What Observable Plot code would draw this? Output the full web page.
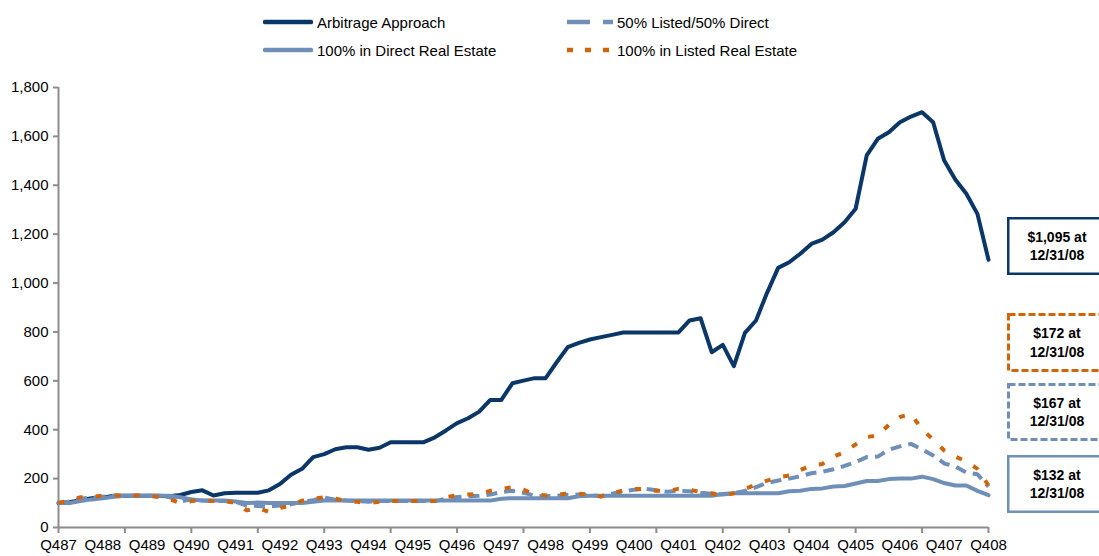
<!DOCTYPE html>
<html>
<head>
<meta charset="utf-8">
<script src="https://cdn.jsdelivr.net/npm/d3@7"></script>
<script src="https://cdn.jsdelivr.net/npm/@observablehq/plot@0.6"></script>
<style>
  body { margin: 0; background: #fff; font-family: "Liberation Sans", Arial, sans-serif; }
  #wrap { position: relative; width: 1099px; height: 556px; overflow: hidden; background: #fff; }
  #legend { position: relative; width: 1099px; height: 70px; }
  .lg { position: absolute; display: flex; align-items: center; font-size: 15px; color: #000; white-space: nowrap; height: 20px; }
  .lg svg { margin-right: 4px; }
  .box { position: absolute; width: 100px; box-sizing: border-box; }
  .box svg { position: absolute; left: 0; top: 0; }
  .box .t { position: absolute; left: 0; width: 100px; text-align: center; font-weight: bold; font-size: 14px; line-height: 18.5px; color: #000; }
  #chart { position: absolute; left: 0; top: 70px; }
</style>
</head>
<body>
<div id="wrap">
  <div id="legend"></div>
  <div id="chart"></div>
</div>
<script>
// ---- Data ----
const quarterLabels = ["Q487","Q488","Q489","Q490","Q491","Q492","Q493","Q494","Q495","Q496","Q497","Q498","Q499","Q400","Q401","Q402","Q403","Q404","Q405","Q406","Q407","Q408"];
const yTicks = [0, 200, 400, 600, 800, 1000, 1200, 1400, 1600, 1800];

// Quarterly values Q4 1987 .. Q4 2008 (85 quarters)
const arbitrage = [100,103,112,120,122,130,130,130,130,130,128,133,145,152,131,140,142,142,142,152,
  178,216,240,288,300,320,328,328,318,326,349,349,349,349,369,397,427,447,474,522,
  522,590,601,611,611,676,738,755,769,779,788,798,798,798,798,798,798,847,856,717,
  747,660,796,847,960,1062,1085,1120,1160,1178,1208,1249,1304,1522,1590,1617,1658,1681,1699,1658,
  1501,1424,1365,1283,1095];
const direct = [100,100,108,115,120,126,130,130,130,130,130,124,115,110,110,110,106,100,102,100,
  100,100,100,105,110,110,110,110,110,110,110,110,110,110,110,110,110,110,110,110,
  118,120,120,120,120,120,120,128,130,130,130,130,130,130,130,130,130,130,130,130,
  137,140,140,140,140,140,148,150,158,160,168,170,180,190,190,198,200,200,208,198,
  182,172,172,150,132];
const mixed = [100,105,118,122,126,130,130,130,130,128,125,106,115,110,108,108,105,90,88,85,
  90,95,105,112,122,114,110,108,105,108,108,108,108,108,108,118,125,128,130,135,
  145,150,142,130,128,130,134,135,132,128,138,148,154,158,152,146,150,148,142,138,
  135,140,150,165,182,192,200,210,222,228,238,252,268,288,290,318,332,342,320,295,
  262,250,225,218,167];
const listed = [100,110,124,125,131,131,131,131,131,125,117,100,108,112,108,108,100,70,80,64,
  80,90,110,117,124,118,108,105,100,105,108,108,108,108,108,125,131,135,138,150,
  158,165,155,135,131,135,138,138,135,127,140,151,158,158,150,150,158,155,145,140,
  131,140,158,175,192,205,213,235,254,260,290,308,340,370,376,420,452,465,400,360,
  315,290,270,240,172];

const seriesNames = ["Arbitrage Approach", "50% Listed/50% Direct", "100% in Direct Real Estate", "100% in Listed Real Estate"];
const seriesColors = ["#0a3768", "#6f8fb8", "#6f8fb8", "#d0640a"];
const endLabels = ["$1,095 at", "$172 at", "$167 at", "$132 at"];
const endDate = "12/31/08";

// ---- Build table ----
const table = [];
[arbitrage, mixed, direct, listed].forEach((arr, s) => {
  arr.forEach((v, i) => table.push({ series: seriesNames[s], i, v }));
});
const rowsOf = name => table.filter(d => d.series === name);

// ---- Legend ----
const legend = document.getElementById("legend");
const legendItems = [
  { name: seriesNames[0], color: seriesColors[0], dash: null, left: 263, top: 12 },
  { name: seriesNames[1], color: seriesColors[1], dash: "23,13", left: 567, top: 12 },
  { name: seriesNames[2], color: seriesColors[2], dash: null, left: 263, top: 40 },
  { name: seriesNames[3], color: seriesColors[3], dash: "6,12", left: 567, top: 40 }
];
legendItems.forEach(it => {
  const d = document.createElement("div");
  d.className = "lg";
  d.style.left = it.left + "px";
  d.style.top = it.top + "px";
  const w = it.dash ? 46 : 50;
  const cap = it.dash ? "butt" : "round";
  d.innerHTML = `<svg width="${w}" height="10"><line x1="${it.dash ? 0 : 2}" x2="${it.dash ? w : w - 2}" y1="5" y2="5" stroke="${it.color}" stroke-width="4.5" stroke-linecap="${cap}" ${it.dash ? `stroke-dasharray="${it.dash}"` : ""}/></svg><span>${it.name}</span>`;
  legend.appendChild(d);
});

// ---- Chart ----
const axisGray = "#8c8c8c";
const chart = Plot.plot({
  width: 1099,
  height: 486,
  marginLeft: 58,
  marginRight: 111,
  marginTop: 17,
  marginBottom: 29,
  x: { domain: [0, 84] },
  y: { domain: [0, 1800] },
  style: { fontFamily: "'Liberation Sans', Arial, sans-serif", fontSize: "15px", color: "#000", background: "#fff" },
  marks: [
    Plot.axisY({ ticks: yTicks, tickFormat: d3.format(","), tickSize: 5, tickPadding: 5, stroke: axisGray, strokeWidth: 2, fill: "#000", fontSize: 15, label: null }),
    Plot.axisX({ ticks: d3.range(0, 85, 6), tickSize: 6, tickFormat: () => "", stroke: axisGray, strokeWidth: 2, label: null }),
    Plot.axisX({ ticks: d3.range(0, 85, 4), tickSize: 0, tickPadding: 12, tickFormat: i => quarterLabels[i / 4], fill: "#000", fontSize: 15, label: null }),
    Plot.ruleX([0], { stroke: axisGray, strokeWidth: 2 }),
    Plot.ruleY([0], { stroke: axisGray, strokeWidth: 2 }),
    Plot.line(rowsOf(seriesNames[0]), { x: "i", y: "v", stroke: seriesColors[0], strokeWidth: 4 }),
    Plot.line(rowsOf(seriesNames[2]), { x: "i", y: "v", stroke: seriesColors[2], strokeWidth: 4 }),
    Plot.line(rowsOf(seriesNames[1]), { x: "i", y: "v", stroke: seriesColors[1], strokeWidth: 4, strokeDasharray: "11,7", strokeLinecap: "butt" }),
    Plot.line(rowsOf(seriesNames[3]), { x: "i", y: "v", stroke: seriesColors[3], strokeWidth: 4, strokeDasharray: "6,13", strokeLinecap: "butt" })
  ]
});
document.getElementById("chart").appendChild(chart);

// ---- End-value boxes ----
const wrap = document.getElementById("wrap");
const boxes = [
  { label: endLabels[0], color: seriesColors[0], dash: null, top: 217, h: 58, sw: 2.5 },
  { label: endLabels[1], color: seriesColors[3], dash: "7,3", top: 313, h: 59, sw: 3 },
  { label: endLabels[2], color: seriesColors[1], dash: "7,3", top: 383, h: 58, sw: 3 },
  { label: endLabels[3], color: seriesColors[1], dash: null, top: 455, h: 58, sw: 2.5 }
];
boxes.forEach(b => {
  const d = document.createElement("div");
  d.className = "box";
  d.style.left = "1007px";
  d.style.top = b.top + "px";
  d.style.height = b.h + "px";
  const o = b.sw / 2;
  d.innerHTML = `<svg width="100" height="${b.h}"><rect x="${o}" y="${o}" width="${100 - b.sw}" height="${b.h - b.sw}" fill="#fff" stroke="${b.color}" stroke-width="${b.sw}" ${b.dash ? `stroke-dasharray="${b.dash}"` : ""}/></svg><div class="t" style="top:${(b.h - 37) / 2}px">${b.label}<br>${endDate}</div>`;
  wrap.appendChild(d);
});
</script>
</body>
</html>
